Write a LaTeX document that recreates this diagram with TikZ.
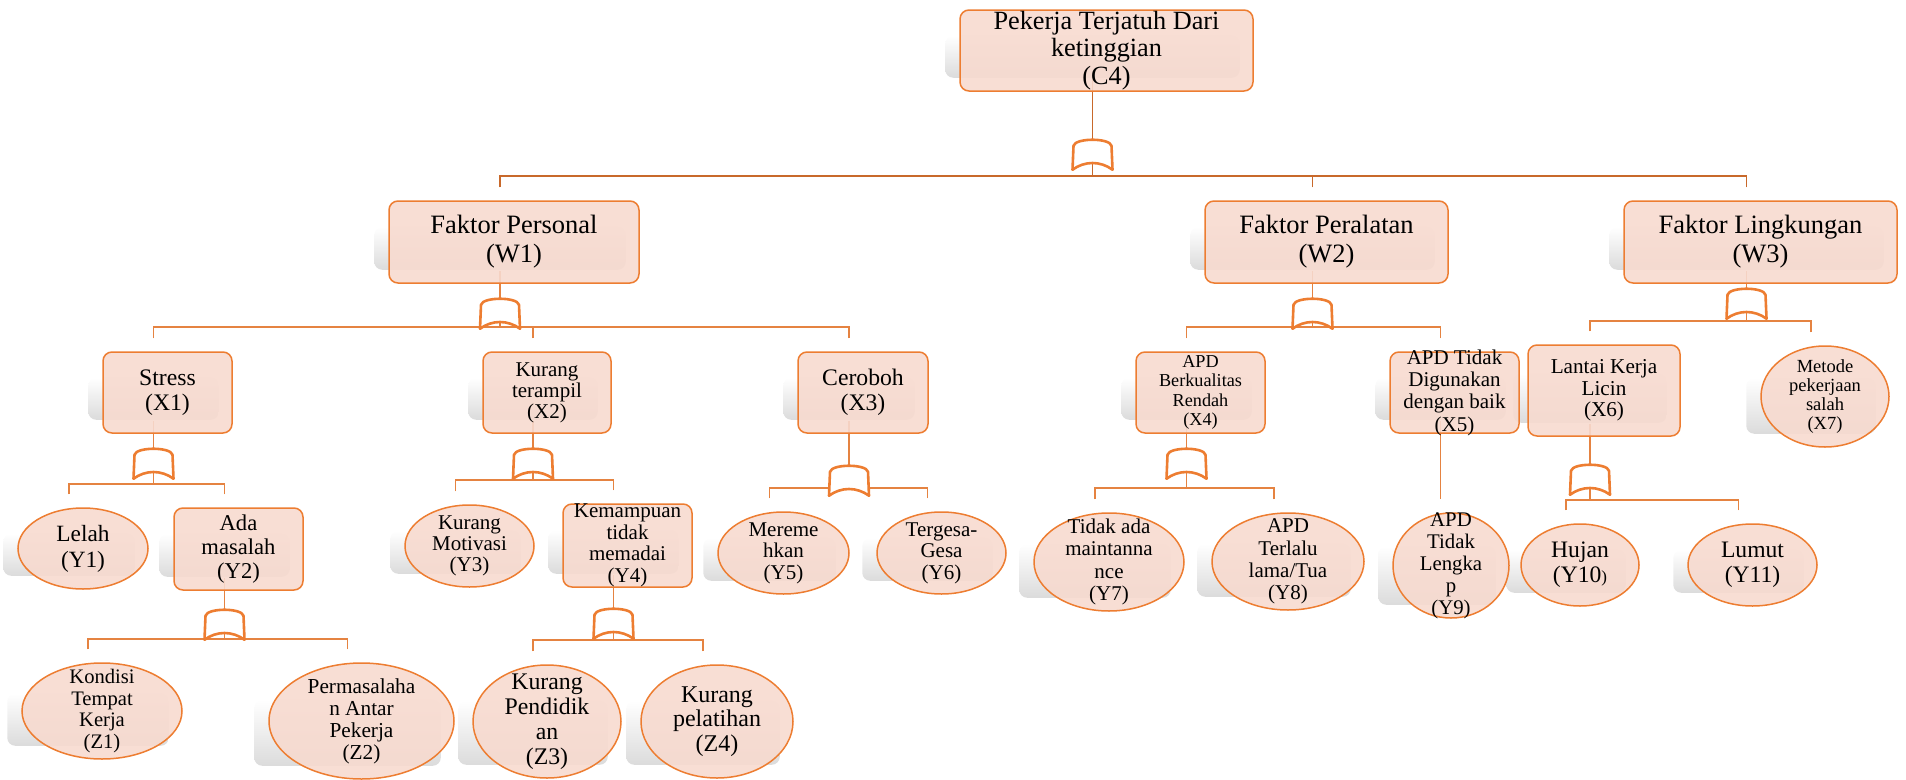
\documentclass[tikz,border=0pt]{standalone}
\usepackage{fontspec}
\setmainfont{Liberation Serif}
\usetikzlibrary{calc,shapes.geometric}
\pgfdeclarelayer{bg}
\pgfsetlayers{bg,main}
\definecolor{boxfill}{HTML}{F7DACF}
\definecolor{boxline}{HTML}{ED7D31}
\definecolor{wirecol}{HTML}{E58341}
\definecolor{wiretopcol}{HTML}{C8692B}

\tikzset{
  evbox/.style={rectangle, rounded corners=9pt, draw=boxline, line width=1.5pt, fill=boxfill, fill opacity=0.9, inner sep=0pt},
  evoval/.style={ellipse, draw=boxline, line width=1.5pt, fill=boxfill, fill opacity=0.9, inner sep=0pt},
  fs/.style 2 args={font=\fontsize{#1}{#2}\selectfont},
  wire/.style={draw=wirecol, line width=1.6pt},
  wiretop/.style={draw=wiretopcol, line width=1.6pt},
  gateline/.style={draw=boxline, fill=white, line width=2.6pt, line join=round},
  orgate/.pic={\path[gateline] (-19,7) .. controls (-17,-1) and (17,-1) .. (19,7) -- (20,31) .. controls (8,22) and (-8,22) .. (-20,31) -- cycle;},
  shadowbar/.style={shade, top color=white, bottom color=black!14, rounded corners=8pt}
}

% event: outlined shape plus a centred label node
\newcommand\evnode[8]{%
  \node[#1, minimum width=#5, minimum height=#6] (#2) at (#3,#4) {};
  \node[#7, align=center, inner sep=0pt] (#2-t) at (#2.center) {#8};
}

% soft grey backdrop offset to the lower left of an event
\newcommand\castshadow[1]{%
  \path[shadowbar] let \p1=(#1.west), \p2=(#1.east), \p3=(#1.north), \p4=(#1.south) in
    (\x1-14pt, {\y3-0.32*(\y3-\y4)}) rectangle (\x2-14pt, \y4+14pt);}

% stem from a parent into its gate, then the bar down to each child
\newcommand\gatewires[5]{%
  \coordinate (g#1) at ($(#1.south)+(-14,#2)$);
  \draw[#5] ($(#1.south)+(-14,-13)$) -- (g#1);
  \draw[#5] ($(g#1)+(0,24)$) -- ($(g#1)+(0,#3)$);
  \foreach \kid in {#4} {\draw[#5] ($(\kid.north)+(-14,-13)$) |- ($(g#1)+(0,#3)$);}
}

\begin{document}
\begin{tikzpicture}[x=1pt,y=-1pt]
\useasboundingbox (0,0) rectangle (1906,779);

% top event
\evnode{evbox}{C4}{1106.5}{50.5}{293}{81}{fs={26.3}{27.5}}{Pekerja Terjatuh Dari\\ketinggian\\(C4)}

% factors
\evnode{evbox}{W1}{514}{242}{250}{82}{fs={26.5}{29}}{Faktor Personal\\(W1)}
\evnode{evbox}{W2}{1326.5}{242}{243}{82}{fs={26.5}{29}}{Faktor Peralatan\\(W2)}
\evnode{evbox}{W3}{1760.5}{242}{273}{82}{fs={26.5}{29}}{Faktor Lingkungan\\(W3)}

% X level
\evnode{evbox}{X1}{167.5}{392.5}{129}{81}{fs={23.7}{25}}{Stress\\(X1)}
\evnode{evbox}{X2}{547}{392.5}{128}{81}{fs={21}{21}}{Kurang\\terampil\\(X2)}
\evnode{evbox}{X3}{863}{392.5}{130}{81}{fs={23.7}{25}}{Ceroboh\\(X3)}
\evnode{evbox}{X4}{1200.5}{392.5}{129}{81}{fs={18.2}{19.5}}{APD\\Berkualitas\\Rendah\\(X4)}
\evnode{evbox}{X5}{1454.5}{392.5}{129}{81}{fs={21}{22.3}}{APD Tidak\\Digunakan\\dengan baik\\(X5)}
\evnode{evbox}{X6}{1604}{390.5}{152}{91}{fs={21.2}{21.5}}{Lantai Kerja\\Licin\\(X6)}
\evnode{evoval}{X7}{1825}{396.5}{128}{101}{fs={18.5}{19.3}}{Metode\\pekerjaan\\salah\\(X7)}

% Y level
\evnode{evoval}{Y1}{83}{548.5}{130}{81}{fs={23.3}{26}}{Lelah\\(Y1)}
\evnode{evbox}{Y2}{238.5}{549}{129}{82}{fs={22.6}{24}}{Ada\\masalah\\(Y2)}
\evnode{evoval}{Y3}{469.5}{546}{129}{82}{fs={21}{21}}{Kurang\\Motivasi\\(Y3)}
\evnode{evbox}{Y4}{627.5}{545.5}{129}{83}{fs={21}{21.7}}{Kemampuan\\tidak\\memadai\\(Y4)}
\evnode{evoval}{Y5}{783.5}{553}{131}{82}{fs={21}{21.5}}{Mereme\\hkan\\(Y5)}
\evnode{evoval}{Y6}{941.5}{553}{129}{82}{fs={21}{21.5}}{Tergesa-\\Gesa\\(Y6)}
\evnode{evoval}{Y7}{1109}{562}{150}{98}{fs={21}{22.3}}{Tidak ada\\maintanna\\nce\\(Y7)}
\evnode{evoval}{Y8}{1288}{561.5}{152}{97}{fs={21}{22.3}}{APD\\Terlalu\\lama/Tua\\(Y8)}
\evnode{evoval}{Y9}{1451}{565.5}{116}{105}{fs={20.8}{22}}{APD\\Tidak\\Lengka\\p\\(Y9)}
\evnode{evoval}{Y10}{1580}{565}{118}{82}{fs={23.6}{25}}{Hujan\\(Y10{\fontsize{17}{17}\selectfont)}}
\evnode{evoval}{Y11}{1752.5}{565}{129}{82}{fs={23.6}{25}}{Lumut\\(Y11)}

% Z level
\evnode{evoval}{Z1}{102}{711}{160}{96}{fs={20.6}{21.7}}{Kondisi\\Tempat\\Kerja\\(Z1)}
\evnode{evoval}{Z2}{361.5}{721}{185}{116}{fs={21.3}{22}}{Permasalaha\\n Antar\\Pekerja\\(Z2)}
\evnode{evoval}{Z3}{547}{721.5}{148}{113}{fs={23.8}{25}}{Kurang\\Pendidik\\an\\(Z3)}
\evnode{evoval}{Z4}{717}{721.5}{152}{113}{fs={24}{24.5}}{Kurang\\pelatihan\\(Z4)}

\begin{pgfonlayer}{bg}
  \foreach \ev in {C4,W1,W2,W3,X1,X2,X3,X4,X5,X6,X7,Y1,Y2,Y3,Y4,Y5,Y6,Y7,Y8,Y9,Y10,Y11,Z1,Z2,Z3,Z4}
    {\castshadow{\ev}}
  \gatewires{C4}{47}{37}{W1,W2,W3}{wiretop}
  \gatewires{W1}{14}{29}{X1,X2,X3}{wire}
  \gatewires{W2}{14}{29}{X4,X5}{wire}
  \gatewires{W3}{4}{33}{X6,X7}{wire}
  \gatewires{X1}{14}{36}{Y1,Y2}{wire}
  \gatewires{X2}{14}{32}{Y3,Y4}{wire}
  \gatewires{X3}{31}{23}{Y5,Y6}{wire}
  \gatewires{X4}{14}{40}{Y7,Y8}{wire}
  \gatewires{X6}{27}{36}{Y10,Y11}{wire}
  \gatewires{Y2}{18}{30}{Z1,Z2}{wire}
  \gatewires{Y4}{20}{32}{Z3,Z4}{wire}
  % single cause under X5, no gate
  \draw[wire] ($(X5.south)+(-14,-13)$) -- ($(X5.south)+(-14,65)$);
\end{pgfonlayer}

% gates
\foreach \g in {C4,W1,W2,W3,X1,X2,X3,X4,X6,Y2,Y4}
  {\pic at (g\g) {orgate};}
\end{tikzpicture}
\end{document}
